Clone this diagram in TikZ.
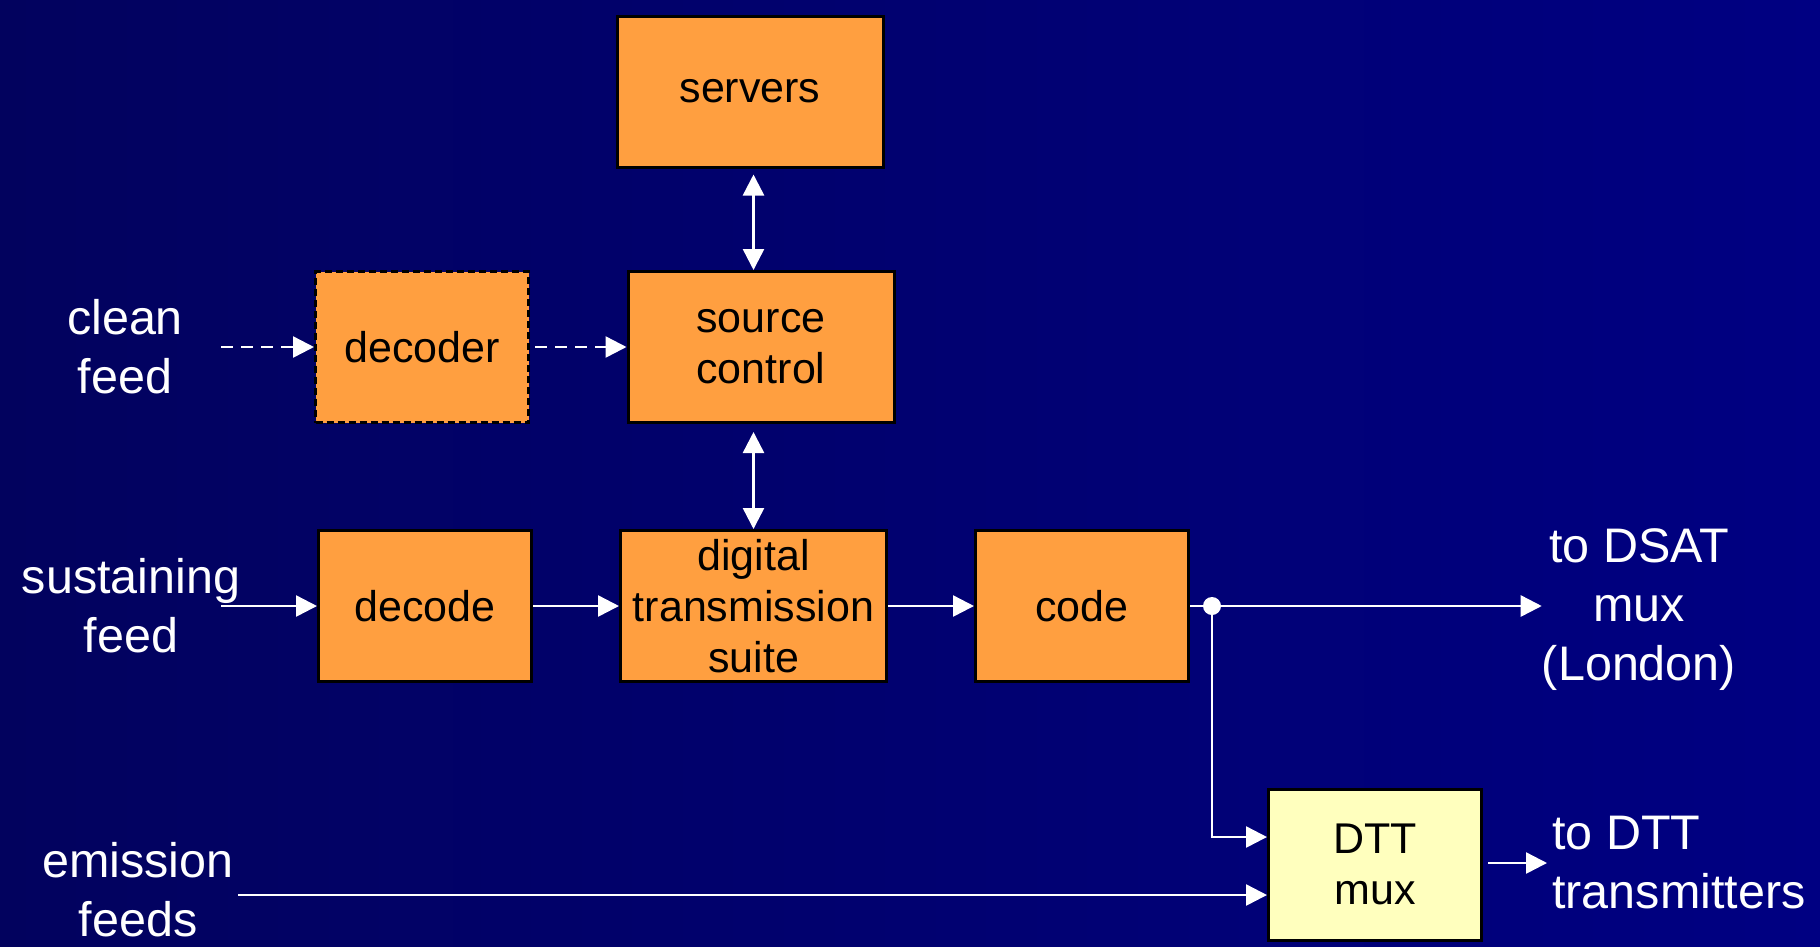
\documentclass[tikz,border=0pt]{standalone}
\usepackage{fontspec}
\setmainfont{Liberation Sans}
\usetikzlibrary{positioning, arrows.meta}

\definecolor{navyL}{HTML}{02025E}
\definecolor{navyR}{HTML}{000082}
\definecolor{boxorange}{HTML}{FF9F40}
\definecolor{muxyellow}{HTML}{FFFFBE}

\tikzset{
  box/.style={draw=black, line width=3pt, fill=boxorange, minimum height=151pt,
    align=center, inner sep=0pt, font=\fontsize{43}{51}\selectfont},
  wide/.style={minimum width=266pt},
  narrow/.style={minimum width=213pt},
  lbl/.style={text=white, align=center, inner sep=0pt, font=\fontsize{48.5}{59}\selectfont},
  wire/.style={draw=white, line width=2.5pt, -{Triangle[length=21pt,width=21pt]}},
  both/.style={wire, {Triangle[length=21pt,width=21pt]}-{Triangle[length=21pt,width=21pt]}},
  dsh/.style={wire, dash pattern=on 12pt off 8pt}
}

\begin{document}
\begin{tikzpicture}[x=1pt, y=-1pt, node distance=86pt]
    \shade[left color=navyL, right color=navyR] (0,0) rectangle (1820,946);
    \useasboundingbox (0,0) rectangle (1820,946);

    % boxes
    \node[box, wide] (dts) at (753.5,606) {digital\\transmission\\suite};
    \node[box, narrow, left=of dts] (decode) {decode};
    \node[box, narrow, right=of dts] (code) {code};
    \node[box, wide] (source) at (761,347) {source\\control};
    \node[box, narrow, dash pattern=on 7pt off 4pt] (decoder) at (422,347) {decoder};
    \node[box, wide] (servers) at (750,91.5) {servers};
    \node[box, narrow, fill=muxyellow] (dtt) at (1375,864.5) {DTT\\mux};

    % labels
    \node[lbl] (clean) at (125,347) {clean\\feed};
    \node[lbl] (sust) at (131,606) {sustaining\\feed};
    \node[lbl] (emis) at (138,890) {emission\\feeds};
    \node[lbl] (todsat) at (1639,610) {to DSAT\\mux\\(London)};
    \node[lbl, align=left, anchor=west] (todtt) at (1552,863) {to DTT\\transmitters};

    \coordinate (cin) at (221,347);
    \coordinate (sin) at (221,606);
    \coordinate (ein) at (238,895);
    \node[circle, fill=white, inner sep=0pt, minimum size=18pt] (dot) at (1212,606) {};

    % connectors
    \draw[dsh] (cin) -- (decoder.west);
    \draw[dsh, shorten <=5pt] (decoder.east) -- (source.west);
    \draw[both, shorten <=6pt] (servers.south -| dts) -- (source.north -| dts);
    \draw[both, shorten <=8pt] (source.south -| dts) -- (dts.north);
    \draw[wire] (sin) -- (decode.west);
    \draw[wire] (decode.east) -- (dts.west);
    \draw[wire] (dts.east) -- (code.west);
    \draw[wire] (code.east) -- (code.east -| todsat.west);
    \draw[wire] (dot) |- ([yshift=27.5pt]dtt.west);
    \draw[wire] (ein) -- ([yshift=-30.5pt]dtt.west);
    \draw[wire, shorten <=5pt] ([yshift=1.5pt]dtt.east) -- ([xshift=-5pt]todtt.west);
\end{tikzpicture}
\end{document}
